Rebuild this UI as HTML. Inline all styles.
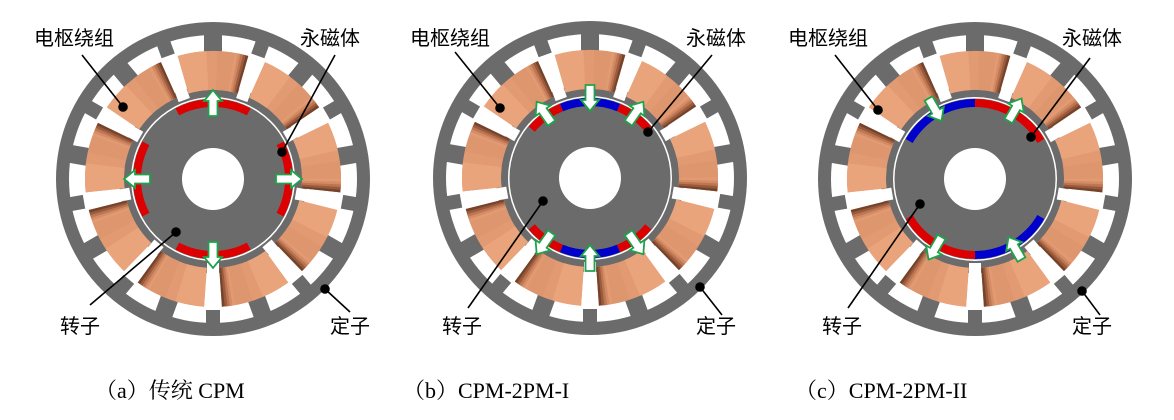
<!DOCTYPE html>
<html><head><meta charset="utf-8"><style>
html,body{margin:0;padding:0;background:#fff;width:1174px;height:420px;overflow:hidden}
svg{display:block}
.lb{font-family:"Liberation Sans","Noto Sans CJK SC",sans-serif;font-size:20px;fill:#000}
.cap{font-family:"Liberation Serif","Noto Serif CJK SC",serif;font-size:22px;fill:#000}
</style></head><body>
<svg id="s" width="1174" height="420" viewBox="0 0 1174 420" xmlns="http://www.w3.org/2000/svg">
<g id="m"></g>
<g stroke="#000" stroke-width="1.6" fill="#000">
<line x1="82" y1="55" x2="123" y2="107"/><circle cx="123" cy="107" r="4"/>
<line x1="335" y1="55" x2="282" y2="152"/><circle cx="282" cy="152" r="4"/>
<line x1="90" y1="305" x2="176" y2="232"/><circle cx="176" cy="232" r="4"/>
<line x1="350" y1="312" x2="325" y2="289"/><circle cx="325" cy="289" r="4"/>

<line x1="455" y1="52" x2="500" y2="108"/><circle cx="500" cy="108" r="4"/>
<line x1="712" y1="55" x2="648" y2="132"/><circle cx="648" cy="132" r="4"/>
<line x1="468" y1="308" x2="543" y2="201"/><circle cx="543" cy="201" r="4"/>
<line x1="722" y1="315" x2="700" y2="287"/><circle cx="700" cy="287" r="4"/>

<line x1="835" y1="55" x2="878" y2="110"/><circle cx="878" cy="110" r="4"/>
<line x1="1090" y1="58" x2="1031" y2="137"/><circle cx="1031" cy="137" r="4"/>
<line x1="848" y1="308" x2="920" y2="204"/><circle cx="920" cy="204" r="4"/>
<line x1="1100" y1="315" x2="1082" y2="291"/><circle cx="1082" cy="291" r="4"/>
</g>
<text class="lb" x="34" y="45">电枢绕组</text>
<text class="lb" x="300" y="45">永磁体</text>
<text class="lb" x="60" y="333">转子</text>
<text class="lb" x="330" y="333">定子</text>
<text class="lb" x="410" y="45">电枢绕组</text>
<text class="lb" x="686" y="45">永磁体</text>
<text class="lb" x="442" y="333">转子</text>
<text class="lb" x="696" y="333">定子</text>
<text class="lb" x="788" y="45">电枢绕组</text>
<text class="lb" x="1062" y="45">永磁体</text>
<text class="lb" x="822" y="333">转子</text>
<text class="lb" x="1072" y="333">定子</text>
<text class="cap" x="95" y="398">（a）传统 CPM</text>
<text class="cap" x="403" y="398">（b）CPM-2PM-I</text>
<text class="cap" x="795" y="398">（c）CPM-2PM-II</text>
</svg>
<script>
var NS="http://www.w3.org/2000/svg",g=document.getElementById("m");
function el(t,a){var e=document.createElementNS(NS,t);for(var k in a)e.setAttribute(k,a[k]);g.appendChild(e);return e;}
function P(cx,cy,r,a){a=a*Math.PI/180;return [cx+r*Math.cos(a),cy-r*Math.sin(a)];}
function sector(cx,cy,r1,r2,a1,a2,fill,extra){
 var p1=P(cx,cy,r2,a1),p2=P(cx,cy,r2,a2),p3=P(cx,cy,r1,a2),p4=P(cx,cy,r1,a1);var lg=(a2-a1)>180?1:0;
 var d="M"+p1+" A"+r2+","+r2+" 0 "+lg+" 0 "+p2+" L"+p3+" A"+r1+","+r1+" 0 "+lg+" 1 "+p4+"Z";
 var o={d:d,fill:fill};for(var k in extra)o[k]=extra[k];return el("path",o);}
function bar(cx,cy,r1,r2,a,w,fill){
 var c=Math.cos(a*Math.PI/180),s=-Math.sin(a*Math.PI/180),nx=-s,ny=c;
 var pts=[[cx+c*r1+nx*w/2,cy+s*r1+ny*w/2],[cx+c*r2+nx*w/2,cy+s*r2+ny*w/2],[cx+c*r2-nx*w/2,cy+s*r2-ny*w/2],[cx+c*r1-nx*w/2,cy+s*r1-ny*w/2]];
 el("polygon",{points:pts.join(" "),fill:fill});}
function arrow(cx,cy,r,a,out){
 var L=26,hw=9,sw=4.5,hl=11;
 var dir=out?a:a+180;var t=dir*Math.PI/180;var ux=Math.cos(t),uy=-Math.sin(t),nx=-uy,ny=ux;
 var c=P(cx,cy,r,a);var bx=c[0]-ux*L/2,by=c[1]-uy*L/2,tx=c[0]+ux*L/2,ty=c[1]+uy*L/2;
 var hx=tx-ux*hl,hy=ty-uy*hl;
 var pts=[[bx+nx*sw,by+ny*sw],[hx+nx*sw,hy+ny*sw],[hx+nx*hw,hy+ny*hw],[tx,ty],[hx-nx*hw,hy-ny*hw],[hx-nx*sw,hy-ny*sw],[bx-nx*sw,by-ny*sw]];
 el("polygon",{points:pts.join(" "),fill:"#fff",stroke:"#1ea34a","stroke-width":1.8,"stroke-linejoin":"miter"});}
function motor(cx,cy,mags,arrows){
 el("circle",{cx:cx,cy:cy,r:157,fill:"#6b6b6b"});
 el("circle",{cx:cx,cy:cy,r:144,fill:"#fff"});
 sector(cx,cy,80,94,0,359.99,"#6b6b6b");
 var N=9,st=40,half=16;
 for(var k=0;k<N;k++){var a=90+st*k;
  bar(cx,cy,126,150,a,18,"#6b6b6b");
  bar(cx,cy,84,134,a+20,12,"#fff");
  bar(cx,cy,131,150,a+20,14,"#6b6b6b");
 }
 var cols=["#e29a72","#d48c66","#bd7652","#9a5a3c","#74432b"];
 for(var k=0;k<N;k++){var a=90+st*k;
  sector(cx,cy,89,128,a-half,a+half,"#e29a72");
  sector(cx,cy,89,128,a+half-13,a+half,"#eaa47c");
  sector(cx,cy,89,128,a-half,a-half+14,"#de966e");
  for(var j=0;j<5;j++) sector(cx,cy,89,128,a-half+j*1.2,a-half+(j+1)*1.2+0.2,cols[4-j]);
 }
 el("circle",{cx:cx,cy:cy,r:82,fill:"#fff"});
 el("circle",{cx:cx,cy:cy,r:80.5,fill:"#6b6b6b"});
 el("circle",{cx:cx,cy:cy,r:31,fill:"#fff"});
 mags.forEach(function(m){sector(cx,cy,72,80,m[0],m[1],m[2]);});
 arrows.forEach(function(q){arrow(cx,cy,q[2]||76,q[0],q[1]);});
}
var R="#dd0000",B="#0000cc";
motor(213,179,[[62,118,R],[152,208,R],[242,298,R],[-28,28,R]],[[90,1],[180,1],[270,1],[0,1]]);
motor(590,178,[[40,68,R],[68,112,B],[112,140,R],[220,248,R],[248,292,B],[292,320,R]],
 [[55,1,80],[90,0,80],[125,1,80],[235,1,80],[270,0,80],[305,1,80]]);
motor(975,179,[[30,90,R],[90,150,B],[210,270,R],[270,330,B]],
 [[60,1,80],[120,0,80],[240,1,80],[300,0,80]]);
</script>
</body></html>
